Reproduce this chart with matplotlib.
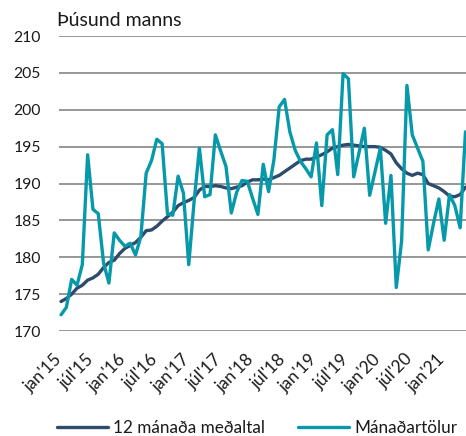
import matplotlib
matplotlib.use("Agg")
import matplotlib.pyplot as plt
from matplotlib.transforms import ScaledTranslation
import numpy as np

plt.rcParams['font.family'] = ['Lato', 'DejaVu Sans']

# Monthly data, jan'15 .. may'21
tick_labels = ["jan'15", "júl'15", "jan'16", "júl'16", "jan'17", "júl'17", "jan'18",
               "júl'18", "jan'19", "júl'19", "jan'20", "júl'20", "jan'21"]
tick_index = [0, 6, 12, 18, 24, 30, 36, 42, 48, 54, 60, 66, 72]

monthly = [172.2, 173.2, 177.0, 176.2, 179.0, 193.9, 186.5, 185.9, 179.2, 176.5,
           183.3, 182.3, 181.5, 181.9, 180.3, 182.8, 191.4, 193.1, 196.0, 195.4,
           185.9, 185.7, 191.0, 188.7, 179.0, 187.5, 194.8, 188.2, 188.5, 196.6,
           194.4, 192.3, 186.0, 188.8, 190.4, 190.3, 188.0, 185.8, 192.6, 188.9,
           193.2, 200.4, 201.4, 197.0, 194.5, 193.0, 192.0, 190.9, 195.5, 187.0,
           196.6, 197.3, 191.2, 204.9, 204.2, 190.9, 194.2, 197.5, 188.4, 191.6,
           194.8, 184.6, 191.1, 175.9, 182.2, 203.3, 196.6, 194.8, 193.0, 181.0,
           184.6, 187.9, 182.3, 188.5, 187.0, 184.0, 197.0]

avg12 = [174.0, 174.4, 175.0, 175.8, 176.2, 176.9, 177.2, 177.7, 178.6, 179.3,
         179.6, 180.5, 181.2, 181.6, 182.0, 182.7, 183.6, 183.7, 184.2, 184.9,
         185.5, 186.1, 187.0, 187.4, 187.7, 188.1, 189.1, 189.6, 189.6, 189.7,
         189.6, 189.4, 189.3, 189.5, 189.7, 190.2, 190.5, 190.5, 190.6, 190.5,
         190.8, 191.1, 191.6, 192.1, 192.6, 193.1, 193.3, 193.3, 193.6, 193.9,
         194.3, 194.8, 195.0, 195.2, 195.3, 195.2, 195.1, 195.0, 195.0, 195.0,
         194.9, 194.5, 194.0, 192.8, 192.0, 191.4, 191.1, 191.4, 191.2, 190.0,
         189.7, 189.4, 188.9, 188.3, 188.2, 188.5, 189.5]

labels = ["12 mánaða meðaltal", "Mánaðartölur"]
colors = ["#2E4A6C", "#0599AA"]

x = np.arange(len(monthly))

fig = plt.figure(figsize=(4.66, 4.36), dpi=100)
W, H = 466, 436
ax = fig.add_axes([59 / W, 1 - 331 / H, (466 - 59) / W, (331 - 36) / H])

l1, = ax.plot(x, avg12, color=colors[0], lw=2.4, solid_capstyle='round', zorder=3)
l2, = ax.plot(x, monthly, color=colors[1], lw=2.4, solid_capstyle='round', zorder=4)

ax.set_ylim(170, 210)
ax.set_yticks(np.arange(170, 211, 5))
ax.set_xlim(-0.38, 76.1)
ax.grid(axis='y', color='#8f8f8f', lw=1.3, zorder=1)
ax.set_axisbelow(True)
for s in ax.spines.values():
    s.set_visible(False)
ax.tick_params(axis='y', length=0, pad=13, labelsize=11.3, labelcolor='#1a1a1a')
ax.tick_params(axis='x', length=0)
ax.set_xticks([])

off = ScaledTranslation(4 / 100, -20 / 100, fig.dpi_scale_trans)
for xi, lab in zip(tick_index, tick_labels):
    ax.text(xi, 0, lab, transform=ax.get_xaxis_transform() + off,
            rotation=45, ha='right', va='top', fontsize=12.3, color='#1a1a1a')

fig.text(57 / W, 1 - 20.5 / H, "Þúsund manns", ha='left', va='center',
         fontsize=14, color='#1a1a1a')

fig.legend([l1, l2], labels, loc='center left',
           bbox_to_anchor=(57 / W, 1 - 428 / H), ncol=2, frameon=False,
           fontsize=12.3, handlelength=3.0, handletextpad=0.3,
           columnspacing=1.9, borderpad=0, borderaxespad=0,
           labelcolor='#1a1a1a')

fig.savefig("out.png", dpi=100)
